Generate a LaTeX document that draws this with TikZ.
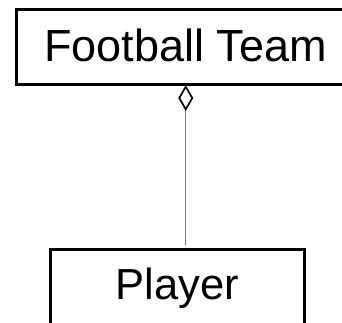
\documentclass[tikz,border=0pt]{standalone}
\usepackage{fontspec}
\setmainfont{Liberation Sans}
\usetikzlibrary{arrows.meta}
\definecolor{connGray}{RGB}{120,120,120}
\tikzset{
  classbox/.style={draw=black, line width=3pt, inner sep=0pt, outer sep=0pt, text=black},
  aggline/.style={draw=connGray, line width=1.2pt,
    {Diamond[open, length=26pt, width=15pt, line width=1.7pt, color=black]}-, shorten >=4pt}
}
\begin{document}
\begin{tikzpicture}[x=1pt, y=-1pt]
  \useasboundingbox (0,0) rectangle (342,323);
  \node[classbox, font=\fontsize{45}{45}\selectfont, minimum width=338.5pt, minimum height=75pt,
        text height=32pt, text depth=4pt] (team) at (185.75,47.5) {Football Team};
  \node[classbox, font=\fontsize{43.5}{43.5}\selectfont, minimum width=254.2pt, minimum height=75.5pt,
        text height=31pt, text depth=6.5pt] (player) at (177.6,286.75) {Player};
  \draw[aggline] (team.south) -- (team.south |- player.north);
\end{tikzpicture}
\end{document}
